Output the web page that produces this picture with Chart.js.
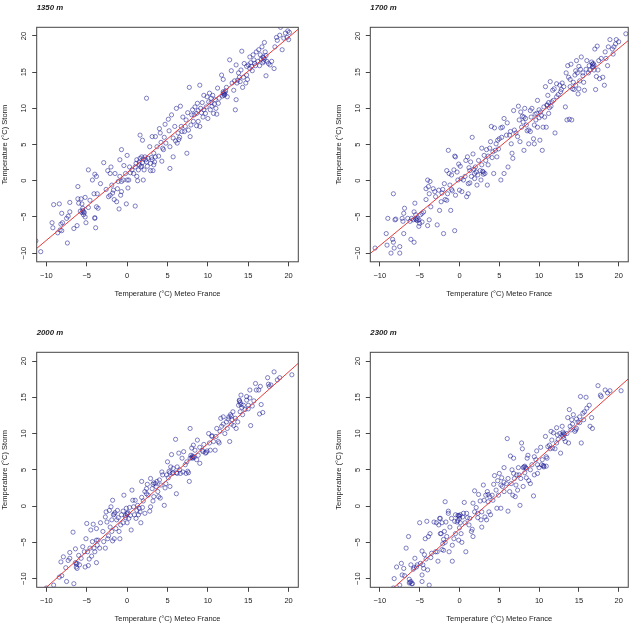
<!DOCTYPE html>
<html>
<head>
<meta charset="utf-8">
<script src="https://cdn.jsdelivr.net/npm/chart.js"></script>
<style>
  html, body { margin:0; padding:0; background:#fff; }
  #wrap { position:relative; width:633px; height:638px; overflow:hidden; background:#fff; }
  #wrap canvas { position:absolute; }
</style>
</head>
<body>
<div id="wrap">
  <canvas id="c1350" width="316" height="319" style="left:0;top:0"></canvas>
  <canvas id="c1700" width="316" height="319" style="left:317px;top:0"></canvas>
  <canvas id="c2000" width="316" height="319" style="left:0;top:319px"></canvas>
  <canvas id="c2300" width="316" height="319" style="left:317px;top:319px"></canvas>
</div>
<script>
// titres et axes
const panelTitles = ['1350 m', '1700 m', '2000 m', '2300 m'];
const xTitle = 'Temperature (°C) Meteo France';
const yTitle = 'Temperature (°C) Storm';
const xTicks = [-10, -5, 0, 5, 10, 15, 20];
const yTicks = [-10, -5, 0, 5, 10, 15, 20];
const axisMin = -11.2, axisMax = 21.2;

// droites de regression (ordonnee a l'origine, pente)
const fitIntercept = [1.12, 0.12, -1.3, -3.18];
const fitSlope = [0.935, 0.908, 0.99, 0.977];

// points [Meteo France, Storm]
const pts1350 = [[-10.7,-9.8],[-11.3,-8.3],[-9.3,-5.8],[-9.2,-6.5],[-9.1,-3.3],[-8.4,-3.2],[-8.6,-7.2],[-8.3,-6.8],[-8.2,-6.0],[-8.1,-4.5],[-8.0,-5.8],[-8.1,-6.9],
[-7.4,-8.6],[-7.5,-5.2],[-7.3,-4.9],[-7.1,-4.3],[-7.1,-3.0],
[-6.6,-6.6],[-6.2,-6.2],[-6.1,-0.8],[-6.1,-2.5],[-6.0,-3.1],[-5.8,-4.2],[-5.7,-2.5],[-5.6,-3.2],[-5.5,-3.8],[-5.5,-4.1],[-5.3,-4.4],[-5.4,-4.7],[-5.2,-5.0],[-5.1,-5.8],[-5.2,-2.3],[-4.8,1.5],[-4.3,0.1],[-4.1,-1.8],[-4.0,0.9],[-3.8,0.6],[-3.7,-1.8],[-3.8,-3.6],[-3.6,-3.8],[-4.0,-5.2],[-3.9,-6.5],[-4.0,-5.1],[-4.6,-2.7],[-4.8,-3.7],
[-3.3,-0.4],[-2.9,2.5],[-2.6,-1.2],[-2.4,1.4],[-2.3,-2.2],[-2.1,1.0],[-2.1,-2.0],[-2.0,1.9],[-1.9,-0.6],[-1.8,-1.7],[-1.7,-1.3],[-1.6,-2.6],[-1.5,1.0],[-1.3,-2.9],[-1.2,-1.1],[-1.1,-0.1],[-1.0,-3.9],[-0.9,0.6],[-0.9,2.9],[-0.8,-2.0],[-0.7,-1.5],[-0.7,4.3],[-0.7,-0.1],[-0.5,0.1],[-0.4,2.1],[-0.2,1.0],[-0.1,-3.2],[0.0,3.5],[0.0,0.1],[0.1,-1.0],[0.2,0.1],[0.3,1.9],
[0.4,1.1],[0.6,1.5],[0.8,1.0],[1.0,-3.5],[1.0,1.9],[1.1,2.4],[1.2,2.9],[1.2,0.6],[1.3,0.0],[1.4,1.5],[1.5,2.2],[1.6,3.1],[1.6,6.3],[1.7,1.9],[1.8,3.3],[1.9,2.5],[1.9,5.6],[2.0,0.1],[2.1,1.5],[2.2,3.3],[2.4,2.6],[2.4,11.4],[2.5,2.0],[2.6,3.1],[2.8,4.7],[2.9,1.4],[2.9,2.4],[3.1,6.1],[3.1,2.9],[3.2,1.4],[3.3,3.8],[3.3,2.2],[3.5,6.1],[3.5,3.3],[3.7,4.7],[3.9,3.4],[4.0,7.2],[4.1,6.6],[4.2,5.3],[4.3,2.7],[4.4,4.5],[4.5,4.3],[4.6,6.0],[4.7,7.8],
[5.1,8.5],[5.2,6.9],[5.3,1.7],[5.3,4.7],[5.5,9.1],[5.7,5.9],[5.7,3.3],[5.9,7.5],[6.1,10.0],[6.2,5.2],[6.4,5.7],[6.5,6.0],[6.6,10.3],[6.7,7.5],[6.8,6.8],[6.9,8.8],[7.1,6.8],[7.2,7.5],[7.3,8.4],[7.4,3.8],[7.5,9.4],[7.6,7.0],[7.7,12.9],[7.8,6.1],[7.9,7.7],[8.0,9.1],[8.1,9.8],[8.2,8.2],[8.3,9.1],[8.4,10.2],[8.6,7.6],[8.6,9.3],[8.7,10.7],[8.8,8.2],[9.0,7.5],[9.0,13.2],[9.1,10.0],[9.3,10.8],[9.4,8.8],[9.5,11.8],[9.5,9.8],[9.7,9.3],[9.8,10.2],[9.9,11.6],[10.0,8.6],
[10.1,10.9],[10.2,12.1],[10.3,9.8],[10.4,11.4],[10.5,10.3],[10.6,11.8],[10.7,9.3],[10.9,11.2],[11.0,10.0],[11.1,9.2],[11.2,12.8],[11.3,10.7],[11.4,11.4],[11.7,14.6],[11.9,14.0],[11.9,12.1],[12.0,11.8],[12.1,12.2],[12.3,12.9],[12.4,11.6],[12.7,16.7],[12.9,15.2],[13.0,13.5],[13.2,12.5],[13.4,9.8],[13.5,11.2],[13.5,16.0],[13.6,13.5],[13.7,13.9],[13.8,14.9],[13.9,14.3],[14.1,15.3],[14.2,17.9],[14.3,12.9],[14.4,14.3],[14.5,16.2],[14.7,13.5],[14.8,15.8],[14.8,14.6],[14.9,14.0],
[15.0,16.0],[15.2,17.1],[15.2,15.5],[15.3,16.3],[15.5,15.2],[15.6,17.4],[15.7,16.7],[15.9,15.9],[16.0,17.8],[16.2,16.5],[16.3,18.1],[16.5,17.4],[16.6,16.8],[16.7,18.5],[16.8,17.1],[16.9,16.5],[17.0,19.1],[17.1,17.8],[17.2,14.5],[17.3,16.5],[17.5,16.2],[17.7,16.0],[17.9,16.5],[18.2,15.5],[18.3,18.5],[18.5,19.8],[18.6,19.4],[18.9,20.1],[19.0,21.2],[19.2,18.1],[19.4,19.7],[19.6,20.4],[19.8,19.8],[19.9,20.7],[20.1,20.5],[20.0,19.5],
[12.0,12.0],[12.1,11.9],[11.9,12.3],[12.2,12.4],[11.8,11.7],[1.5,2.6],[1.8,2.0],[2.3,2.9],[2.0,3.0],[16.9,17.0],[17.0,16.8],[16.8,16.3],[17.2,17.3],[-5.4,-4.3],[-5.6,-4.4],[3.0,3.2],[3.4,2.6],[8.8,9.7],[9.2,9.4],[10.8,10.6],[10.4,10.8],[6.3,6.6],[6.0,5.5],[4.8,5.2],[14.0,13.7],[15.4,15.8],[15.8,16.2],[16.4,15.9],[13.3,13.8]];

const pts1700 = [[-10.6,-9.3],[-9.2,-7.3],[-9.1,-8.9],[-9.0,-5.2],[-8.6,-10.0],[-8.4,-8.1],[-8.3,-1.8],[-8.2,-9.3],[-8.1,-5.4],[-8.0,-5.3],[-8.3,-8.5],[-7.5,-10.0],[-7.5,-9.1],[-7.2,-5.2],[-7.1,-5.6],[-7.0,-4.5],[-7.0,-7.3],[-6.9,-3.8],[-6.5,-5.2],[-6.2,-5.6],[-6.1,-8.1],[-6.0,-5.2],[-5.8,-5.4],[-5.7,-8.5],[-5.7,-4.3],[-5.6,-3.1],[-5.5,-4.7],[-5.4,-5.4],[-5.3,-5.2],[-5.1,-5.4],[-5.1,-6.3],[-5.0,-5.9],[-4.9,-4.7],[-4.7,-5.7],[-4.7,-4.5],[-4.5,-4.3],[-4.2,-2.6],[-4.2,-1.1],[-4.0,0.1],[-4.0,-6.2],[-3.9,-0.8],[-3.8,-1.8],[-3.8,-5.4],[-3.7,-0.1],[-3.6,-3.6],[-3.3,-1.1],[-3.1,-1.5],[-2.8,-6.1],[-2.5,-4.1],[-2.3,-2.9],[-2.2,-1.7],[-2.1,-1.2],[-2.0,-7.3],[-1.9,-0.4],[-1.8,-2.6],[-1.6,1.4],[-1.6,-2.7],[-1.4,4.2],[-1.3,1.0],[-1.2,-0.6],[-1.1,-4.1],[-1.0,0.8],[-0.9,-1.4],[-0.7,1.5],[-0.6,3.4],[-0.6,-6.9],[-0.5,-2.0],[-0.5,3.3],[-0.3,1.2],[-0.2,0.1],[-0.1,2.3],[0.0,-1.3],[0.1,2.0],[0.2,0.3],[0.3,-1.5],[0.5,0.1],[0.7,0.6],[0.9,-2.2],[1.0,3.3],[1.1,-1.8],[1.1,-0.4],[1.2,1.8],[1.3,1.4],[1.3,-0.3],[1.4,2.6],[1.5,0.6],[1.6,6.0],[1.7,3.7],[1.9,0.3],[1.9,1.0],[2.0,1.9],[2.1,1.2],[2.2,-0.6],[2.3,0.8],[2.4,2.8],[2.6,1.4],[2.7,0.1],[2.8,4.5],[2.8,2.2],[3.0,1.2],[3.1,3.5],[3.2,1.0],[3.3,2.8],[3.4,4.3],[3.5,-0.6],[3.6,2.2],[3.8,4.5],[3.9,5.4],[4.0,7.5],[4.1,3.2],[4.2,4.0],[4.3,1.0],[4.4,7.3],[4.5,4.2],[4.6,5.1],[4.7,3.3],[4.8,5.6],[5.0,5.8],[5.2,7.3],[5.2,0.1],[5.3,6.0],[5.4,7.4],[5.6,1.0],[5.6,8.6],[5.9,6.3],[6.0,8.0],[6.1,1.9],[6.3,6.3],[6.4,6.8],[6.5,5.1],[6.6,3.8],[6.7,3.1],[6.8,9.7],[6.9,7.0],[7.1,6.6],[7.3,6.1],[7.4,10.3],[7.5,8.4],[7.6,5.4],[7.7,9.5],[7.8,7.4],[7.9,8.9],[8.0,8.1],[8.1,4.2],[8.2,10.0],[8.3,8.6],[8.4,7.7],[8.5,6.9],[8.7,5.1],[8.7,7.0],[8.9,9.7],[8.9,6.8],[9.0,8.8],[9.1,10.0],[9.3,5.8],[9.4,7.7],[9.4,5.1],[9.6,8.4],[9.7,9.3],[9.8,11.1],[9.8,7.4],[10.0,8.7],[10.1,5.6],[10.2,9.5],[10.3,9.0],[10.4,4.2],[10.5,7.4],[10.6,10.2],[10.7,8.8],[10.8,13.0],[10.9,7.4],[11.0,10.4],[11.1,11.8],[11.2,9.3],[11.3,10.1],[11.4,13.7],[11.5,10.3],[11.6,10.9],[11.7,12.5],[11.8,11.1],[11.9,12.7],[12.0,6.6],[12.2,11.6],[12.2,13.4],[12.4,11.9],[12.6,13.2],[12.7,12.3],[12.9,13.5],[13.1,13.0],[13.3,10.2],[13.4,14.9],[13.5,8.4],[13.6,15.9],[13.7,14.3],[13.8,8.5],[13.9,13.0],[14.0,16.1],[14.1,8.4],[14.2,12.7],[14.3,13.6],[14.4,12.6],[14.5,14.6],[14.6,13.2],[14.7,16.6],[14.8,14.9],[14.9,12.0],[15.0,12.7],[15.1,13.8],[15.2,15.4],[15.3,17.1],[15.5,14.9],[15.5,14.5],[15.6,13.6],[15.7,12.5],[15.9,15.4],[16.0,16.6],[16.2,14.9],[16.3,15.9],[16.4,15.3],[16.6,16.4],[16.7,15.7],[16.8,16.2],[16.9,15.3],[17.0,18.2],[17.1,12.6],[17.2,14.4],[17.3,18.6],[17.4,15.3],[17.5,16.6],[17.6,14.1],[17.8,16.9],[18.0,14.3],[18.2,13.2],[18.3,17.8],[18.4,16.9],[18.6,15.9],[18.7,18.5],[18.9,19.5],[19.2,18.2],[19.3,17.5],[19.4,18.5],[19.6,18.9],[19.7,19.5],[20.0,19.2],[20.9,20.3],
[-5.5,-5.3],[-5.3,-5.5],[2.9,1.3],[3.0,0.9],[1.8,1.6],[16.8,15.8],[16.9,16.0],[16.7,16.1],[11.0,10.5],[11.2,10.8],[-1.0,-1.2],[-1.5,-1.8],[0.8,2.8],[9.5,9.2],[10.0,9.8],[8.1,8.8],[12.8,12.6],[14.6,15.2],[15.0,15.8],[13.9,14.0],[4.9,4.4],[3.6,3.4],[-3.0,-2.2],[-2.6,-1.3]];

const pts2000 = [[-10.0,-11.3],[-9.1,-10.9],[-8.4,-9.8],[-8.1,-9.6],[-8.2,-7.7],[-7.9,-7.0],[-7.5,-10.4],[-7.6,-8.5],[-7.3,-7.5],[-7.1,-7.2],[-7.1,-6.4],[-6.7,-3.6],[-6.6,-10.7],[-6.4,-5.9],[-6.3,-8.4],[-6.2,-7.9],[-6.2,-8.6],[-6.0,-6.8],[-5.9,-8.1],[-5.7,-7.2],[-5.5,-5.6],[-5.3,-6.3],[-5.2,-8.4],[-5.0,-2.4],[-5.1,-4.5],[-4.9,-6.3],[-4.8,-8.2],[-4.7,-7.3],[-4.6,-5.8],[-4.5,-3.3],[-4.4,-6.9],[-4.3,-4.9],[-4.2,-2.5],[-4.1,-5.8],[-4.0,-6.3],[-3.8,-3.1],[-3.8,-7.8],[-3.8,-4.7],[-3.7,-5.4],[-3.6,-4.7],[-3.4,-5.8],[-3.3,-2.3],[-3.0,-3.5],[-2.9,-4.9],[-2.7,-5.8],[-2.7,-1.5],[-2.6,-0.8],[-2.5,-2.2],[-2.4,-4.5],[-2.3,-4.1],[-2.2,-0.6],[-2.1,-2.9],[-2.0,-0.1],[-1.9,-3.5],[-1.9,-1.9],[-1.8,0.8],[-1.8,-4.8],[-1.7,-1.2],[-1.6,-4.5],[-1.5,-0.9],[-1.4,-3.1],[-1.3,-1.9],[-1.2,-0.6],[-1.1,-1.6],[-1.0,-3.5],[-0.9,-4.5],[-0.8,-2.6],[-0.7,-1.2],[-0.5,-0.7],[-0.5,-2.3],[-0.4,1.5],[-0.2,-1.6],[-0.1,-0.3],[0.0,-2.3],[0.0,-1.0],[0.2,-1.7],[0.3,-0.2],[0.4,-1.3],[0.5,-3.3],[0.6,2.2],[0.7,0.8],[0.8,-0.1],[0.9,-1.2],[1.0,0.8],[1.1,-1.7],[1.2,-0.6],[1.3,0.1],[1.4,-1.2],[1.5,-0.3],[1.6,-0.8],[1.7,-2.3],[1.8,3.4],[1.8,1.2],[1.9,-0.2],[2.0,0.7],[2.2,-1.0],[2.4,2.4],[2.4,1.7],[2.5,3.0],[2.6,1.5],[2.8,-0.7],[2.9,3.8],[2.9,-0.1],[3.1,2.4],[3.2,0.7],[3.3,1.3],[3.5,3.1],[3.6,2.7],[3.7,3.4],[3.8,2.0],[3.9,1.3],[4.0,3.6],[4.1,1.1],[4.2,2.9],[4.3,4.7],[4.4,4.3],[4.6,0.1],[4.7,2.5],[4.8,3.1],[4.9,4.3],[5.0,6.1],[5.1,3.9],[5.2,4.8],[5.3,2.7],[5.4,5.4],[5.5,7.1],[5.7,4.6],[5.7,5.2],[6.0,9.2],[6.1,1.7],[6.2,4.5],[6.2,5.4],[6.4,7.3],[6.5,5.0],[6.6,4.5],[6.8,6.6],[6.9,4.7],[7.0,7.5],[7.2,5.7],[7.3,4.5],[7.4,6.1],[7.5,4.8],[7.6,4.6],[7.7,3.4],[7.8,10.7],[7.9,7.0],[8.0,8.0],[8.1,6.6],[8.2,8.4],[8.3,6.7],[8.4,7.7],[8.6,6.4],[8.7,9.1],[8.8,7.0],[9.0,5.9],[9.0,8.1],[9.3,7.7],[9.4,7.5],[9.5,8.5],[9.7,7.3],[9.9,7.6],[10.1,10.0],[10.2,8.7],[10.3,7.7],[10.5,9.7],[10.7,8.9],[10.9,7.7],[11.0,9.6],[11.1,10.7],[11.3,8.9],[11.4,8.7],[11.5,10.3],[11.6,12.1],[11.7,11.0],[11.9,12.3],[11.9,11.3],[12.1,10.0],[12.3,11.6],[12.4,10.7],[12.6,12.3],[12.7,8.9],[12.8,12.6],[12.9,11.3],[13.0,11.9],[13.1,13.0],[13.2,11.1],[13.4,12.1],[13.5,10.7],[13.7,11.6],[13.8,13.9],[13.9,14.6],[14.0,13.0],[14.1,15.3],[14.2,13.6],[14.3,12.6],[14.4,13.9],[14.6,13.3],[14.8,14.6],[14.8,15.1],[15.0,13.9],[15.2,14.9],[15.2,16.0],[15.3,11.1],[15.5,13.8],[15.7,14.5],[15.9,16.9],[16.0,16.0],[16.3,16.0],[16.4,12.7],[16.5,16.5],[16.6,14.0],[16.8,12.9],[17.4,17.7],[17.5,16.8],[17.6,16.5],[17.8,16.7],[18.2,18.5],[18.6,17.4],[18.9,17.7],[20.4,18.1],
[14.0,14.3],[13.9,14.5],[14.1,14.0],[8.0,6.7],[8.2,6.8],[8.1,6.9],[7.8,6.6],[0.0,-1.1],[-0.2,-1.3],[0.1,-0.9],[-1.6,-1.1],[3.2,3.0],[3.3,3.2],[5.3,4.6],[5.6,4.5],[6.1,4.6],[12.5,12.0],[12.9,12.4],[15.0,13.4],[-6.4,-7.8],[-6.3,-8.0],[2.2,2.0],[9.8,7.4],[10.5,9.6]];

const pts2300 = [[-8.3,-11.3],[-8.2,-10.0],[-7.9,-8.4],[-7.5,-10.9],[-7.3,-7.9],[-7.2,-9.5],[-7.0,-8.6],[-6.9,-9.6],[-6.7,-5.8],[-6.4,-4.2],[-6.3,-10.1],[-6.2,-10.5],[-6.1,-8.1],[-6.0,-10.7],[-5.9,-10.7],[-5.8,-8.7],[-5.7,-8.5],[-5.6,-7.2],[-5.4,-8.4],[-5.3,-8.1],[-5.0,-2.3],[-4.9,-7.9],[-4.7,-10.4],[-4.7,-9.5],[-4.7,-6.2],[-4.6,-8.1],[-4.5,-8.6],[-4.3,-4.5],[-4.2,-7.3],[-4.1,-2.1],[-4.0,-8.8],[-3.9,-4.2],[-3.8,-10.9],[-3.7,-3.8],[-3.6,-7.1],[-3.5,-6.5],[-3.2,-2.2],[-3.0,-6.3],[-2.9,-2.3],[-2.8,-6.3],[-2.7,-7.6],[-2.6,-2.6],[-2.5,-1.7],[-2.4,-3.8],[-2.4,-1.7],[-2.3,-3.8],[-2.2,-2.3],[-2.1,-5.2],[-2.0,-6.1],[-2.0,-4.6],[-1.9,-3.5],[-1.8,0.6],[-1.7,-2.2],[-1.6,-4.2],[-1.4,-0.7],[-1.4,-1.0],[-1.3,-6.3],[-1.2,-2.9],[-1.0,-1.7],[-0.9,-5.4],[-0.9,-7.6],[-0.7,-4.5],[-0.6,-2.1],[-0.5,-1.2],[-0.5,-3.8],[-0.3,-2.2],[-0.2,-1.3],[-0.1,-4.7],[0.0,-1.7],[0.0,-3.0],[0.1,-2.3],[0.2,-3.8],[0.3,-5.0],[0.4,-1.5],[0.5,-1.0],[0.6,0.5],[0.7,-2.3],[0.8,-6.3],[0.9,-1.0],[1.0,-1.6],[1.2,-2.6],[1.3,-1.7],[1.5,-3.5],[1.6,-3.2],[1.7,-4.2],[1.7,0.4],[1.9,2.1],[1.9,-0.8],[2.1,-0.2],[2.3,-1.6],[2.4,1.6],[2.6,0.7],[2.7,-1.9],[2.8,-2.9],[2.8,-0.8],[3.0,2.9],[3.1,0.8],[3.2,-1.5],[3.3,1.5],[3.4,-1.9],[3.5,2.0],[3.6,0.6],[3.7,-0.8],[3.8,1.3],[3.9,-1.2],[4.1,1.5],[4.2,0.8],[4.3,3.0],[4.4,4.2],[4.6,2.2],[4.7,-0.3],[4.8,3.5],[4.9,1.5],[5.0,4.5],[5.2,2.9],[5.2,-0.3],[5.3,3.9],[5.4,2.7],[5.6,5.3],[5.6,2.0],[5.9,3.1],[6.0,9.3],[6.1,3.8],[6.1,-0.7],[6.3,2.0],[6.4,6.9],[6.5,3.1],[6.6,5.0],[6.7,1.5],[6.8,6.6],[6.9,3.8],[7.0,1.3],[7.1,2.9],[7.2,4.3],[7.3,2.2],[7.4,5.3],[7.5,4.3],[7.6,0.1],[7.7,3.8],[7.8,8.7],[7.9,7.9],[8.0,2.7],[8.1,5.4],[8.2,4.6],[8.3,5.3],[8.4,3.9],[8.5,6.6],[8.6,7.0],[8.7,3.5],[8.9,5.0],[8.9,3.1],[9.1,5.7],[9.3,1.4],[9.4,6.8],[9.4,4.3],[9.6,6.4],[9.7,7.6],[9.8,5.7],[9.8,4.5],[10.0,5.3],[10.2,8.1],[10.3,5.7],[10.4,6.4],[10.5,5.6],[10.6,5.4],[10.8,9.6],[10.9,6.8],[11.0,6.6],[11.1,8.2],[11.3,8.4],[11.4,7.9],[11.5,10.3],[11.6,9.1],[11.7,8.0],[11.8,10.1],[12.0,7.9],[12.2,10.8],[12.2,8.7],[12.3,9.8],[12.4,9.2],[12.6,10.0],[12.7,7.3],[12.9,11.0],[13.0,9.6],[13.1,10.0],[13.1,9.3],[13.3,8.9],[13.5,10.0],[13.6,12.2],[13.7,8.7],[13.8,13.3],[13.9,11.0],[14.0,10.5],[14.1,11.9],[14.2,11.3],[14.3,12.6],[14.5,10.3],[14.6,10.5],[14.7,10.7],[14.9,11.6],[15.1,12.3],[15.2,15.1],[15.3,8.7],[15.5,12.8],[15.6,11.9],[15.7,13.0],[15.9,15.0],[16.0,13.5],[16.3,13.9],[16.4,11.0],[16.6,12.2],[16.7,10.7],[17.4,16.6],[17.7,15.3],[17.8,15.1],[18.3,16.0],[18.6,15.6],[18.9,15.9],[20.3,15.9],
[0.0,-1.4],[-0.1,-1.3],[0.1,-1.2],[-0.2,-2.0],[8.2,5.5],[8.0,5.3],[8.4,5.2],[10.6,5.5],[10.9,5.5],[13.0,10.2],[12.9,9.8],[13.2,9.9],[14.7,12.0],[15.1,11.5],[-6.1,-10.4],[-6.3,-10.6],[-4.4,-6.7],[2.3,-1.0],[3.6,1.6],[-1.8,-5.0],[-2.2,-6.0],[5.6,3.3],[6.8,4.5]];

// mise en page des 4 panneaux (zone de trace dans chaque canvas)
var panels = [
  {id:'c1350', pts:pts1350, area:{l:36.7, t:27.3, r:298.3, b:261.8}},
  {id:'c1700', pts:pts1700, area:{l:53.3, t:27.3, r:315.3, b:261.8}},
  {id:'c2000', pts:pts2000, area:{l:36.7, t:33.3, r:298.3, b:268.3}},
  {id:'c2300', pts:pts2300, area:{l:53.3, t:33.3, r:315.3, b:268.3}}
];
var canvasW = 316, canvasH = 319;
var yAxisW = 36.2, xAxisH = 40;
var fontFamily = '"Liberation Sans", Arial, Helvetica, sans-serif';
var txtColor = '#222';

function minusFmt(v){ return v < 0 ? '\u2212' + Math.abs(v) : String(v); }

// cadre + titre du panneau
var boxPlugin = {
  id: 'rbox',
  afterDraw: function(chart, args, opts){
    var a = chart.chartArea, ctx = chart.ctx;
    ctx.save();
    ctx.strokeStyle = '#444';
    ctx.lineWidth = 1;
    ctx.strokeRect(a.left, a.top, a.right - a.left, a.bottom - a.top);
    ctx.fillStyle = txtColor;
    ctx.font = 'italic bold 7.8px ' + fontFamily;
    ctx.textBaseline = 'middle';
    ctx.textAlign = 'left';
    ctx.fillText(opts.text, a.left, a.top - 19);
    ctx.restore();
  }
};

panels.forEach(function(p, i){
  var a = p.area;
  var fitX = [axisMin, axisMax];
  var fitData = fitX.map(function(x){ return {x:x, y:fitIntercept[i] + fitSlope[i]*x}; });
  var ptData = p.pts.map(function(d){ return {x:d[0], y:d[1]}; });
  var tickFont = {family:fontFamily, size:7.5};
  new Chart(document.getElementById(p.id).getContext('2d'), {
    type: 'scatter',
    data: {
      datasets: [
        {
          data: fitData,
          showLine: true,
          borderColor: '#e53a3a',
          borderWidth: 1,
          pointRadius: 0,
          fill: false
        },
        {
          data: ptData,
          showLine: false,
          pointStyle: 'circle',
          pointRadius: 2.1,
          pointBorderWidth: 0.75,
          borderColor: 'rgba(25,25,150,0.72)',
          backgroundColor: 'rgba(0,0,0,0)'
        }
      ]
    },
    options: {
      responsive: false,
      animation: false,
      devicePixelRatio: 1,
      layout: {padding: {left: a.l - yAxisW, top: a.t, right: canvasW - a.r, bottom: canvasH - a.b - xAxisH}},
      plugins: {legend:{display:false}, tooltip:{enabled:false}, title:{display:false}, rbox:{text: panelTitles[i]}},
      events: [],
      scales: {
        x: {
          type: 'linear', position: 'bottom', min: axisMin, max: axisMax,
          afterBuildTicks: function(s){ s.ticks = xTicks.map(function(v){ return {value:v}; }); },
          afterFit: function(s){ s.height = xAxisH; },
          grid: {drawOnChartArea:false, drawTicks:true, tickLength:4.5, color:'#444', lineWidth:1},
          border: {display:false},
          ticks: {autoSkip:false, maxRotation:0, minRotation:0, padding:4.7, color:txtColor, font:tickFont, callback: minusFmt},
          title: {display:true, text:xTitle, color:txtColor, font:tickFont, padding:{top:0, bottom:3.5}}
        },
        y: {
          type: 'linear', position: 'left', min: axisMin, max: axisMax,
          afterBuildTicks: function(s){ s.ticks = yTicks.map(function(v){ return {value:v}; }); },
          afterFit: function(s){ s.width = yAxisW; },
          grid: {drawOnChartArea:false, drawTicks:true, tickLength:4.5, color:'#444', lineWidth:1},
          border: {display:false},
          ticks: {autoSkip:false, minRotation:90, maxRotation:90, crossAlign:'center', padding:1.8, color:txtColor, font:tickFont, callback: minusFmt},
          title: {display:true, text:yTitle, color:txtColor, font:tickFont, padding:{top:0, bottom:0}}
        }
      }
    },
    plugins: [boxPlugin]
  });
});
</script>
</body>
</html>
